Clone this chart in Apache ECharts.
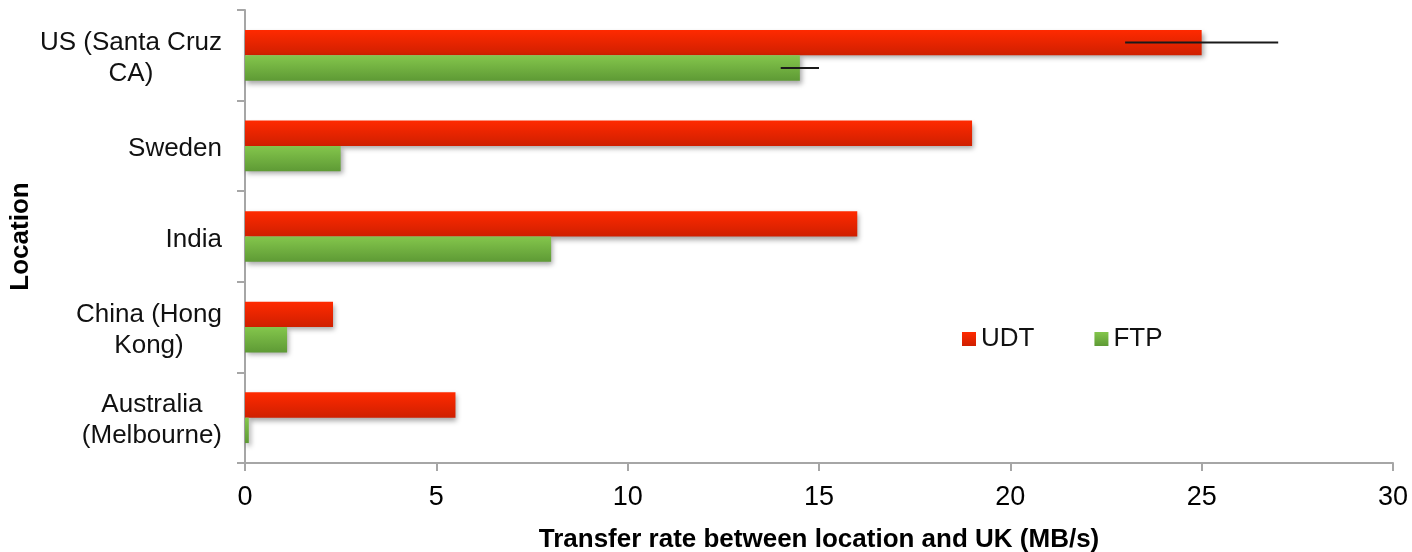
<!DOCTYPE html>
<html>
<head>
<meta charset="utf-8">
<script src="https://cdn.jsdelivr.net/npm/echarts@6/dist/echarts.min.js"></script>
<style>
  html, body { margin: 0; padding: 0; background: #fff; }
  #chart { width: 1412px; height: 552px; }
</style>
</head>
<body>
<div id="chart"></div>
<script>
// Locations, top to bottom
const locations = [
  'US (Santa Cruz\nCA)',
  'Sweden',
  'India',
  'China (Hong\nKong)',
  'Australia\n(Melbourne)'
];
// Transfer rates (MB/s)
const udtValues = [25, 19, 16, 2.3, 5.5];
const ftpValues = [14.5, 2.5, 8, 1.1, 0.1];
// Error bar half-widths (MB/s); null where none is drawn
const udtErrors = [2, null, null, null, null];
const ftpErrors = [0.5, null, null, null, null];
// Value axis ticks
const xTicks = [0, 5, 10, 15, 20, 25, 30];

const FONT = '"Liberation Sans", Arial, Helvetica, sans-serif';
const BAR_GAP_FRACTION = 0.44; // category gap as a share of the band

const chart = echarts.init(document.getElementById('chart'), null, { renderer: 'canvas' });

function gradient(top, bottom) {
  return new echarts.graphic.LinearGradient(0, 0, 0, 1, [
    { offset: 0, color: top },
    { offset: 1, color: bottom }
  ]);
}

// Error bar drawn across the end of a bar; slot 0 = upper bar, 1 = lower bar
function errorBarSeries(values, errors, slot) {
  const data = [];
  values.forEach((v, i) => {
    if (errors[i] != null) data.push([v, i, errors[i]]);
  });
  return {
    type: 'custom',
    name: 'err' + slot,
    z: 5,
    silent: true,
    data: data,
    encode: { x: 0, y: 1 },
    renderItem: function (params, api) {
      const v = api.value(0);
      const idx = api.value(1);
      const err = api.value(2);
      const band = api.size([0, 1])[1];
      const barW = band * (1 - BAR_GAP_FRACTION) / 2;
      const centre = api.coord([v, idx])[1];
      const y = centre + (slot === 0 ? -barW / 2 : barW / 2);
      const x1 = api.coord([v - err, idx])[0];
      const x2 = api.coord([v + err, idx])[0];
      return {
        type: 'line',
        shape: { x1: x1, y1: y, x2: x2, y2: y },
        style: { stroke: '#1a1a1a', lineWidth: 2 }
      };
    }
  };
}

const barShadow = {
  shadowColor: 'rgba(0,0,0,0.35)',
  shadowBlur: 5,
  shadowOffsetX: 2,
  shadowOffsetY: 3
};

const option = {
  animation: false,
  backgroundColor: '#ffffff',
  grid: {
    left: 245, right: 19, top: 10, bottom: 89,
    containLabel: false,
    outerBoundsMode: 'none'
  },
  legend: {
    data: ['UDT', 'FTP'],
    left: 962,
    top: 326,
    padding: 0,
    icon: 'rect',
    itemWidth: 14,
    itemHeight: 14,
    itemGap: 60,
    textStyle: { fontFamily: FONT, fontSize: 26, color: '#111' }
  },
  xAxis: {
    type: 'value',
    min: xTicks[0],
    max: xTicks[xTicks.length - 1],
    interval: 5,
    name: 'Transfer rate between location and UK (MB/s)',
    nameLocation: 'middle',
    nameGap: 64,
    nameMoveOverlap: false,
    nameTextStyle: { fontFamily: FONT, fontSize: 26, fontWeight: 'bold', color: '#000' },
    axisLine: { show: true, lineStyle: { color: '#a6a6a6', width: 2 } },
    axisTick: { show: true, length: 8, lineStyle: { color: '#a6a6a6', width: 2 } },
    axisLabel: { fontFamily: FONT, fontSize: 27, color: '#000', margin: 21 },
    splitLine: { show: false }
  },
  yAxis: {
    type: 'category',
    inverse: true,
    data: locations,
    name: 'Location',
    nameLocation: 'middle',
    nameGap: 211,
    nameMoveOverlap: false,
    nameRotate: 90,
    nameTextStyle: { fontFamily: FONT, fontSize: 26, fontWeight: 'bold', color: '#000' },
    axisLine: { show: true, lineStyle: { color: '#a6a6a6', width: 2 } },
    axisTick: { show: true, length: 8, lineStyle: { color: '#a6a6a6', width: 2 } },
    axisLabel: {
      margin: 23,
      align: 'right',
      padding: [6, 0, 0, 0],
      // each line centred within the right-aligned label block
      formatter: function (value) {
        return value.split('\n').map(s => '{c|' + s + '}').join('\n');
      },
      rich: {
        c: { fontFamily: FONT, fontSize: 26, color: '#111', lineHeight: 31, align: 'center' }
      }
    }
  },
  series: [
    {
      name: 'UDT',
      type: 'bar',
      data: udtValues,
      barGap: '0%',
      barCategoryGap: (BAR_GAP_FRACTION * 100) + '%',
      color: '#e82300',
      itemStyle: Object.assign({ color: gradient('#ff2a00', '#cf1f00') }, barShadow)
    },
    {
      name: 'FTP',
      type: 'bar',
      data: ftpValues,
      barGap: '0%',
      barCategoryGap: (BAR_GAP_FRACTION * 100) + '%',
      color: '#72b040',
      itemStyle: Object.assign({ color: gradient('#84c64c', '#5e9a35') }, barShadow)
    },
    errorBarSeries(udtValues, udtErrors, 0),
    errorBarSeries(ftpValues, ftpErrors, 1)
  ]
};

chart.setOption(option);
</script>
</body>
</html>
